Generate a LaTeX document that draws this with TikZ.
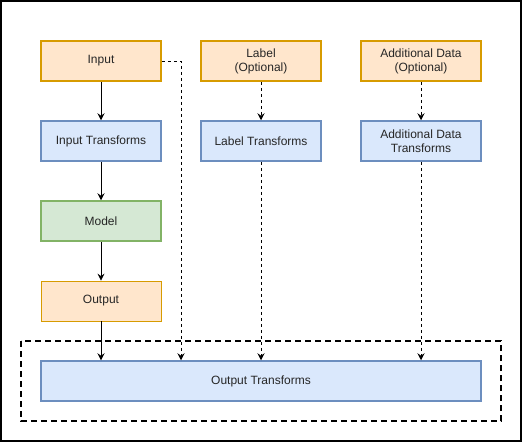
\documentclass[tikz,border=0pt]{standalone}
\usepackage{fontspec}
\setmainfont{Liberation Sans}
\usetikzlibrary{arrows.meta}
\definecolor{ofill}{HTML}{FFE6CC}
\definecolor{ostroke}{HTML}{D79B00}
\definecolor{bfill}{HTML}{DAE8FC}
\definecolor{bstroke}{HTML}{6C8EBF}
\definecolor{gfill}{HTML}{D5E8D4}
\definecolor{gstroke}{HTML}{82B366}
\tikzset{
  box/.style={rectangle, minimum width=120pt, minimum height=40pt, inner sep=0pt, align=center, font=\fontsize{12}{14}\selectfont, text=black!85},
  obox/.style={box, fill=ofill, draw=ostroke, line width=1.5pt},
  obthin/.style={box, fill=ofill, draw=ostroke, line width=0.8pt},
  bbox/.style={box, fill=bfill, draw=bstroke, line width=1.5pt},
  gbox/.style={box, fill=gfill, draw=gstroke, line width=1.5pt},
  arr/.style={-{Stealth[length=7pt,width=7pt,inset=2.5pt]}, line width=0.8pt, black},
  darr/.style={arr, dash pattern=on 3pt off 3pt},
}
\begin{document}
\begin{tikzpicture}[x=1pt,y=-1pt]
\useasboundingbox (0,0) rectangle (522,442);
\draw[line width=1.5pt, black] (1,1) rectangle (521,441);
\draw[line width=1.5pt, dash pattern=on 6pt off 4pt] (21,341) rectangle (501,421);
\node[obox] (input) at (101,61) {Input};
\node[bbox] (intr) at (101,141) {Input Transforms};
\node[gbox] (model) at (101,221) {Model};
\node[obthin] (output) at (101,301) {Output};
\node[obox] (label) at (261,61) {Label\\(Optional)};
\node[bbox] (labtr) at (261,141) {Label Transforms};
\node[obox] (add) at (421,61) {Additional Data\\(Optional)};
\node[bbox] (addtr) at (421,141) {Additional Data\\Transforms};
\node[bbox, minimum width=440pt] (outtr) at (261,381) {Output Transforms};
\coordinate (bend) at (181,61);
\draw[arr] (input) -- (intr);
\draw[arr] (intr) -- (model);
\draw[arr] (model) -- (output);
\draw[arr] (output) -- (output |- outtr.north);
\draw[darr] (input.east) -- (bend) -- (bend |- outtr.north);
\draw[darr] (label) -- (labtr);
\draw[darr] (labtr) -- (outtr.north -| labtr);
\draw[darr] (add) -- (addtr);
\draw[darr] (addtr) -- (outtr.north -| addtr);
\end{tikzpicture}
\end{document}
